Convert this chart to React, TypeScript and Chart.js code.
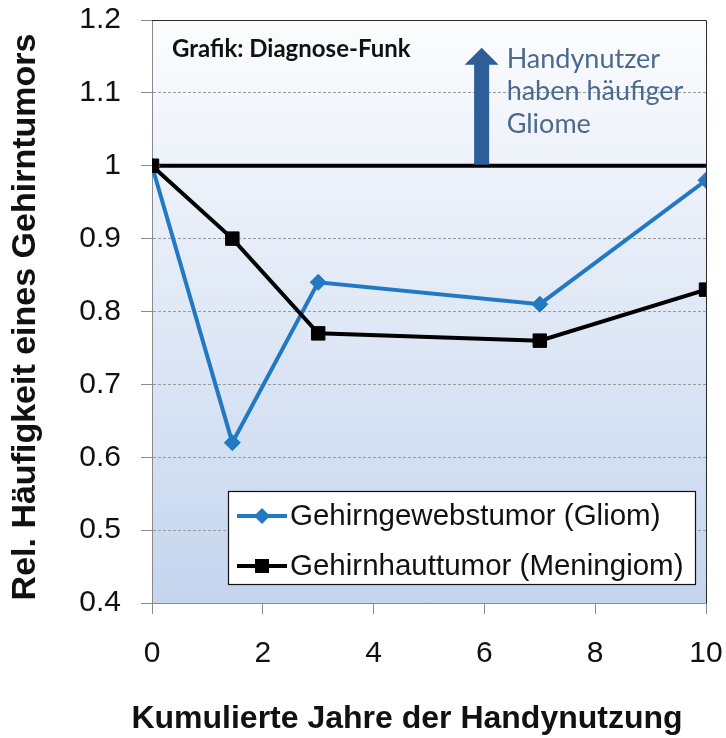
import React, { useEffect, useRef } from "react";
import { Chart, registerables } from "chart.js";

Chart.register(...registerables);

// ---- data ----
const years = [0, 1.45, 3, 7, 10];
const gliom = [1.0, 0.62, 0.84, 0.81, 0.98];
const meningiom = [1.0, 0.9, 0.77, 0.76, 0.83];
const refYears = [0, 10];
const refValues = [1, 1];
const seriesLabels = ["Gehirngewebstumor (Gliom)", "Gehirnhauttumor (Meningiom)"];
const xMin = 0;
const xMax = 10;
const xStep = 2;
const yMin = 0.4;
const yMax = 1.2;
const yStep = 0.1;
const xTitle = "Kumulierte Jahre der Handynutzung";
const yTitle = "Rel. Häufigkeit eines Gehirntumors";
const sourceNote = "Grafik: Diagnose-Funk";
const arrowNote = ["Handynutzer", "haben häufiger", "Gliome"];
const arrowAtYear = 5.95;
const arrowFrom = 1.0;
const arrowTo = 1.162;

const W = 726;
const H = 738;
const ARIAL = "Arial, 'Liberation Sans', sans-serif";
const BLUE = "#2378c3";
const BLACK = "#000000";

function toPoints(xs: number[], ys: number[]) {
  return xs.map((x, i) => ({ x, y: ys[i] }));
}

const decorPlugin = {
  id: "decor",
  beforeDraw(chart: any) {
    const { ctx, chartArea: ca } = chart;
    ctx.save();
    const g = ctx.createLinearGradient(0, ca.top, 0, ca.bottom);
    g.addColorStop(0, "#fbfcfe");
    g.addColorStop(1, "#c5d5ee");
    ctx.fillStyle = g;
    ctx.fillRect(ca.left, ca.top, ca.right - ca.left, ca.bottom - ca.top);
    ctx.restore();
  },
  beforeDatasetsDraw(chart: any) {
    const { ctx, chartArea: ca } = chart;
    ctx.save();
    ctx.strokeStyle = "#2a2a2a";
    ctx.lineWidth = 1;
    ctx.beginPath();
    ctx.moveTo(ca.left, ca.top + 0.5);
    ctx.lineTo(ca.right + 0.5, ca.top + 0.5);
    ctx.lineTo(ca.right + 0.5, ca.bottom);
    ctx.stroke();
    ctx.restore();
  },
  afterDatasetsDraw(chart: any) {
    const { ctx, chartArea: ca, scales } = chart;
    const xs = scales.x;
    const ys = scales.y;
    ctx.save();

    // arrow
    const ax = xs.getPixelForValue(arrowAtYear);
    const ay0 = ys.getPixelForValue(arrowFrom);
    const ay1 = ys.getPixelForValue(arrowTo);
    const shaft = 15;
    const headW = 34;
    const headH = 17;
    ctx.fillStyle = "#2e5e9a";
    ctx.beginPath();
    ctx.moveTo(ax - shaft / 2, ay0 - 1);
    ctx.lineTo(ax - shaft / 2, ay1 + headH);
    ctx.lineTo(ax - headW / 2, ay1 + headH);
    ctx.lineTo(ax, ay1);
    ctx.lineTo(ax + headW / 2, ay1 + headH);
    ctx.lineTo(ax + shaft / 2, ay1 + headH);
    ctx.lineTo(ax + shaft / 2, ay0 - 1);
    ctx.closePath();
    ctx.fill();

    // arrow note
    ctx.fillStyle = "#4a6a8e";
    ctx.font = "27px Lato, 'Open Sans', sans-serif";
    ctx.textAlign = "left";
    ctx.textBaseline = "alphabetic";
    arrowNote.forEach((t, i) => {
      ctx.fillText(t, ax + 25, ay1 + 20 + i * 32.5);
    });

    // source note
    ctx.fillStyle = "#111";
    ctx.font = "bold 24px Lato, 'Open Sans', sans-serif";
    ctx.fillText(sourceNote, ca.left + 20, ca.top + 37);

    // legend
    const lx = ca.left + 76;
    const ly = ca.bottom - 112;
    const lw = ca.right - 11 - lx;
    const lh = 93;
    ctx.fillStyle = "#ffffff";
    ctx.fillRect(lx, ly, lw, lh);
    ctx.strokeStyle = "#111";
    ctx.lineWidth = 1.2;
    ctx.strokeRect(lx + 0.5, ly + 0.5, lw, lh);
    const metas = [
      { label: seriesLabels[0], color: BLUE, shape: "diamond" },
      { label: seriesLabels[1], color: BLACK, shape: "square" },
    ];
    metas.forEach((m, i) => {
      const cy = ly + 25 + i * 50;
      ctx.strokeStyle = m.color;
      ctx.lineWidth = 4;
      ctx.beginPath();
      ctx.moveTo(lx + 9, cy);
      ctx.lineTo(lx + 59, cy);
      ctx.stroke();
      ctx.fillStyle = m.color;
      const px = lx + 34;
      if (m.shape === "diamond") {
        ctx.beginPath();
        ctx.moveTo(px, cy - 8);
        ctx.lineTo(px + 8, cy);
        ctx.lineTo(px, cy + 8);
        ctx.lineTo(px - 8, cy);
        ctx.closePath();
        ctx.fill();
      } else {
        ctx.fillRect(px - 7, cy - 7, 14, 14);
      }
      ctx.fillStyle = "#111";
      ctx.font = `29.5px ${ARIAL}`;
      ctx.textAlign = "left";
      ctx.textBaseline = "middle";
      ctx.fillText(m.label, lx + 62, cy + 1);
    });

    ctx.restore();
  },
  afterDraw(chart: any) {
    const { ctx } = chart;
    ctx.save();
    ctx.fillStyle = "#111";
    ctx.textAlign = "center";
    ctx.textBaseline = "alphabetic";
    ctx.font = `bold 32px ${ARIAL}`;
    ctx.fillText(xTitle, 407, 728);
    ctx.translate(35, 317);
    ctx.rotate(-Math.PI / 2);
    ctx.font = `bold 34px ${ARIAL}`;
    ctx.fillText(yTitle, 0, 0);
    ctx.restore();
  },
};

export default function App() {
  const ref = useRef<HTMLCanvasElement | null>(null);

  useEffect(() => {
    const canvas = ref.current;
    if (!canvas) return;
    const chart = new Chart(canvas, {
      type: "line",
      data: {
        datasets: [
          {
            label: seriesLabels[1],
            data: toPoints(years, meningiom),
            borderColor: BLACK,
            backgroundColor: BLACK,
            borderWidth: 4,
            pointStyle: "rect",
            pointRadius: 9.5,
            pointBorderWidth: 1,
            pointBorderColor: BLACK,
            pointBackgroundColor: BLACK,
            tension: 0,
            order: 0,
          },
          {
            label: seriesLabels[0],
            data: toPoints(years, gliom),
            borderColor: BLUE,
            backgroundColor: BLUE,
            borderWidth: 4,
            pointStyle: "rectRot",
            pointRadius: 8,
            pointBorderWidth: 1,
            pointBorderColor: BLUE,
            pointBackgroundColor: BLUE,
            tension: 0,
            order: 1,
          },
          {
            label: "ref",
            data: toPoints(refYears, refValues),
            borderColor: "#000",
            borderWidth: 4,
            pointRadius: 0,
            tension: 0,
            order: 2,
          },
        ],
      },
      options: {
        responsive: false,
        animation: false,
        devicePixelRatio: 1,
        layout: { padding: 0 },
        plugins: {
          legend: { display: false },
          tooltip: { enabled: false },
        },
        scales: {
          x: {
            type: "linear",
            min: xMin,
            max: xMax,
            afterFit: (s: any) => {
              s.height = 135;
              s.paddingLeft = 0;
              s.paddingRight = 20;
            },
            ticks: {
              stepSize: xStep,
              color: "#111",
              padding: 22,
              font: { family: ARIAL, size: 30 },
            },
            grid: {
              drawOnChartArea: false,
              drawTicks: true,
              tickLength: 11,
              tickColor: "#8a8a8a",
            },
            border: { color: "#8a8a8a", width: 1 },
          },
          y: {
            type: "linear",
            min: yMin,
            max: yMax,
            afterFit: (s: any) => {
              s.width = 152;
              s.paddingTop = 20;
              s.paddingBottom = 0;
            },
            ticks: {
              stepSize: yStep,
              color: "#111",
              padding: 20,
              font: { family: ARIAL, size: 30 },
              callback: (v: any) => String(Math.round(Number(v) * 10) / 10),
            },
            grid: {
              color: "#9a9a9a",
              lineWidth: 1,
              drawTicks: true,
              tickLength: 11,
              tickColor: "#8a8a8a",
            },
            border: { color: "#8a8a8a", width: 1, dash: [3, 2] },
          },
        },
      },
      plugins: [decorPlugin],
    });
    return () => chart.destroy();
  }, []);

  return (
    <div style={{ position: "absolute", left: 0, top: 0, width: W, height: H, background: "#fff" }}>
      <canvas ref={ref} width={W} height={H} style={{ display: "block" }} />
    </div>
  );
}
